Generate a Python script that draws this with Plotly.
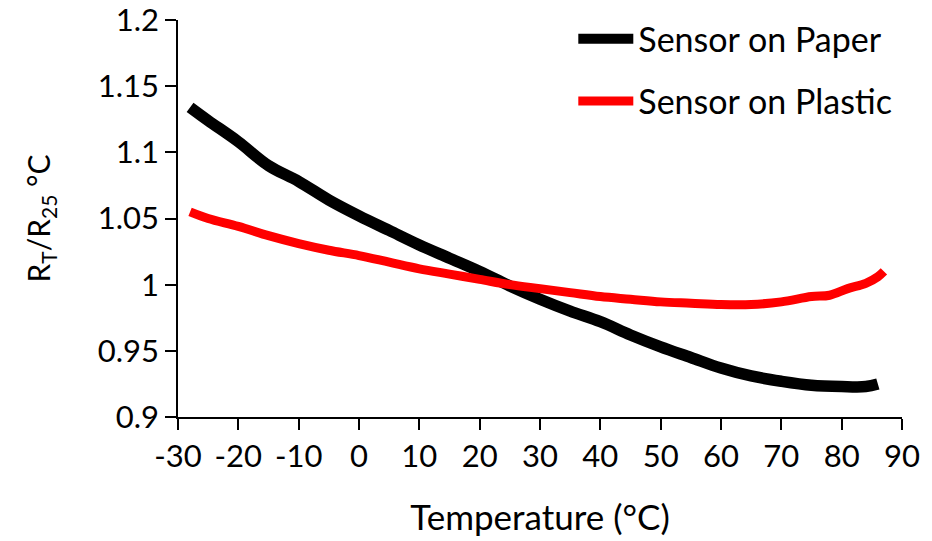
import plotly.graph_objects as go

paper_T = [-28, -25, -20, -15, -10, -5, 0, 5, 10, 15, 20, 25, 30, 35, 40, 45,
           50, 55, 60, 65, 70, 75, 80, 84, 86]
paper_R = [1.134, 1.124, 1.108, 1.090, 1.078, 1.064, 1.052, 1.041, 1.030, 1.020,
           1.010, 0.999, 0.989, 0.980, 0.972, 0.962, 0.953, 0.945, 0.937, 0.931,
           0.927, 0.924, 0.923, 0.923, 0.925]

plastic_T = [-28, -25, -20, -15, -10, -5, 0, 5, 10, 15, 20, 25, 30, 35, 40, 45,
             50, 55, 60, 65, 70, 75, 78, 81, 84, 86, 87]
plastic_R = [1.055, 1.050, 1.044, 1.037, 1.031, 1.026, 1.022, 1.017, 1.012, 1.008,
             1.004, 1.000, 0.997, 0.994, 0.991, 0.989, 0.987, 0.986, 0.985, 0.985,
             0.987, 0.991, 0.992, 0.997, 1.001, 1.006, 1.010]

x_ticks = list(range(-30, 91, 10))
x_labels = [str(v) for v in x_ticks]
y_ticks = [0.9, 0.95, 1.0, 1.05, 1.1, 1.15, 1.2]
y_labels = ["0.9", "0.95", "1", "1.05", "1.1", "1.15", "1.2"]

FONT = "Lato, 'Open Sans', sans-serif"
LEG = 34
TICK = 31

fig = go.Figure()
fig.add_trace(go.Scatter(x=paper_T, y=paper_R, mode="lines", name="Sensor on Paper",
                         legendgroup="a",
                         line=dict(color="black", width=11.5, shape="spline")))
fig.add_trace(go.Scatter(x=plastic_T, y=plastic_R, mode="lines", name="Sensor on Plastic",
                         legendgroup="b",
                         line=dict(color="#ff0000", width=9, shape="spline")))

fig.update_layout(
    width=924, height=533,
    margin=dict(l=170, r=30, t=12, b=124, autoexpand=False),
    paper_bgcolor="white", plot_bgcolor="white",
    font=dict(family=FONT, size=LEG, color="black"),
    showlegend=True,
    legend=dict(x=0.546, y=1.025, xanchor="left", yanchor="top",
                bgcolor="rgba(0,0,0,0)", font=dict(size=LEG, color="black"),
                traceorder="grouped", tracegroupgap=15, itemwidth=55),
    xaxis=dict(range=[-30, 90], tickvals=x_ticks, ticktext=x_labels, ticks="outside",
               ticklen=11, tickwidth=1.5, tickcolor="black", showline=True,
               linecolor="black", linewidth=1.5, showgrid=False, zeroline=False,
               automargin=False, ticklabeloverflow="allow",
               title=dict(text="Temperature (°C)", font=dict(size=35), standoff=33),
               tickfont=dict(size=TICK)),
    yaxis=dict(range=[0.9, 1.2], tickvals=y_ticks, ticktext=y_labels, ticks="outside",
               ticklen=11, tickwidth=1.5, tickcolor="black", showline=True,
               linecolor="black", linewidth=1.5, showgrid=False, zeroline=False,
               automargin=False, ticklabeloverflow="allow",
               title=dict(text="R<sub>T</sub>/R<sub>25</sub> °C", font=dict(size=30),
                          standoff=38),
               tickfont=dict(size=TICK)),
)

fig.write_html("out.html")
